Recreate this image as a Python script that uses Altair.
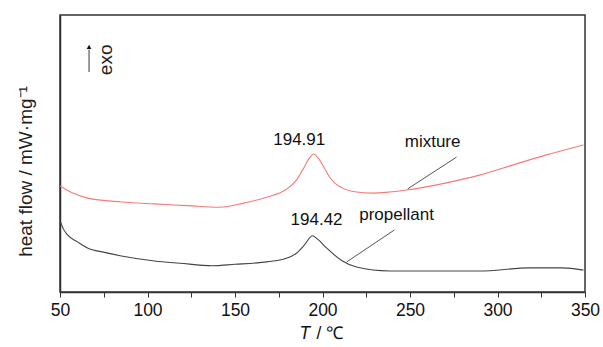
import altair as alt
import pandas as pd

# mixture curve (red)
mix_T = [50.1, 57.0, 65.7, 85.1, 104.0, 122.9, 141.1, 154.3, 168.0, 179.4, 185.1, 188.6, 192.6, 194.9,
         198.3, 201.0, 204.0, 206.9, 211.4, 219.4, 228.0, 238.3, 248.0, 270.9, 289.7, 308.6, 328.0, 349.1]
mix_v = [3.83, 3.58, 3.39, 3.25, 3.18, 3.12, 3.06, 3.20, 3.42, 3.71, 4.04, 4.40, 4.84, 4.98,
         4.77, 4.48, 4.15, 3.94, 3.75, 3.61, 3.57, 3.61, 3.68, 3.94, 4.22, 4.58, 4.95, 5.31]

# propellant curve (black)
pro_T = [50.3, 52.0, 54.3, 60.0, 65.7, 75.4, 85.1, 104.0, 118.4, 137.1, 150.0, 164.0, 179.4, 185.1,
         189.7, 194.3, 197.7, 202.3, 211.4, 219.4, 238.3, 289.7, 318.3, 337.1, 349.1]
pro_v = [2.53, 2.27, 2.06, 1.81, 1.59, 1.43, 1.30, 1.12, 1.04, 0.95, 1.00, 1.06, 1.22, 1.40,
         1.70, 2.03, 1.88, 1.59, 1.12, 0.90, 0.76, 0.76, 0.87, 0.87, 0.79]

# annotations
ann_text = ["194.91", "194.42", "mixture", "propellant"]
ann_T = [186.7, 196.6, 262.9, 242.3]
ann_v = [5.49, 2.60, 5.42, 2.78]

lead_T1 = [248.6, 213.7]
lead_v1 = [3.72, 1.08]
lead_T2 = [276.6, 241.1]
lead_v2 = [4.87, 2.24]

x_ticks = [50, 75, 100, 125, 150, 175, 200, 225, 250, 275, 300, 325, 350]

FONT = "Liberation Sans"

mix = pd.DataFrame({"T": mix_T, "v": mix_v})
pro = pd.DataFrame({"T": pro_T, "v": pro_v})
ann = pd.DataFrame({"text": ann_text, "T": ann_T, "v": ann_v})
lead = pd.DataFrame({"T": lead_T1, "v": lead_v1, "T2": lead_T2, "v2": lead_v2})

xs = alt.Scale(domain=[50, 350], nice=False, zero=False)
ys = alt.Scale(domain=[0, 10], nice=False, zero=False)

xaxis = alt.Axis(values=x_ticks, labelExpr="datum.value % 50 == 0 ? datum.label : ''",
                 title=None, grid=False, tickSize=5, tickColor="#333", domainColor="#333",
                 domainWidth=1.5, labelFont=FONT, labelFontSize=17.5, labelColor="#111",
                 labelPadding=4, labelFlush=False, labelOverlap=False)
yaxis = alt.Axis(title="heat flow / mW·mg⁻¹", labels=False, ticks=False, grid=False,
                 domainColor="#333", domainWidth=1.5, titleFont=FONT, titleFontSize=19,
                 titleFontWeight="normal", titleColor="#222", titleAngle=270,
                 titleX=-35, titleY=156, titleBaseline="middle", titleAlign="center")

X = alt.X("T:Q", scale=xs, axis=xaxis)
Y = alt.Y("v:Q", scale=ys, axis=yaxis)

l_mix = alt.Chart(mix).mark_line(color="#f47a7a", strokeWidth=1.1, interpolate="monotone").encode(x=X, y=Y)
l_pro = alt.Chart(pro).mark_line(color="#444", strokeWidth=1.1, interpolate="monotone").encode(
    x=alt.X("T:Q", scale=xs), y=alt.Y("v:Q", scale=ys))

t_ann = alt.Chart(ann).mark_text(font=FONT, fontSize=17, color="#111").encode(
    x=alt.X("T:Q", scale=xs), y=alt.Y("v:Q", scale=ys), text="text:N")

r_lead = alt.Chart(lead).mark_rule(color="#555", strokeWidth=1).encode(
    x=alt.X("T:Q", scale=xs), y=alt.Y("v:Q", scale=ys), x2="T2:Q", y2="v2:Q")

# exo arrow
arrow = pd.DataFrame({"T": [66.6], "v": [7.94], "v2": [8.75]})
r_arrow = alt.Chart(arrow).mark_rule(color="#333", strokeWidth=1).encode(
    x=alt.X("T:Q", scale=xs), y=alt.Y("v:Q", scale=ys), y2="v2:Q")
head = pd.DataFrame({"T": [66.6], "v": [8.85]})
p_head = alt.Chart(head).mark_point(shape="triangle-up", filled=True, color="#111", size=22, opacity=1).encode(
    x=alt.X("T:Q", scale=xs), y=alt.Y("v:Q", scale=ys))
exo = pd.DataFrame({"T": [76.0], "v": [8.38], "text": ["exo"]})
t_exo = alt.Chart(exo).mark_text(font=FONT, fontSize=19, angle=270, color="#222", baseline="middle").encode(
    x=alt.X("T:Q", scale=xs), y=alt.Y("v:Q", scale=ys), text="text:N")

# x-axis title: italic T + " / ℃"
t_T = alt.Chart(pd.DataFrame({"t": ["T"]})).mark_text(
    font=FONT, fontSize=17.5, fontStyle="italic", align="left", baseline="middle", color="#111").encode(
    x=alt.value(239.5), y=alt.value(319), text="t:N")
t_unit = alt.Chart(pd.DataFrame({"t": ["/ ℃"]})).mark_text(
    font=FONT, fontSize=17.5, align="left", baseline="middle", color="#111").encode(
    x=alt.value(256.5), y=alt.value(319), text="t:N")

chart = alt.layer(l_mix, l_pro, r_lead, t_ann, r_arrow, p_head, t_exo, t_T, t_unit).properties(
    width=525, height=277,
    autosize=alt.AutoSizeParams(type="none"),
    padding={"left": 60, "top": 15, "right": 18, "bottom": 55},
    background="white",
).configure_view(stroke="#333", strokeWidth=1.5)

chart.save("out.html", embed_options={"renderer": "svg", "actions": False})
